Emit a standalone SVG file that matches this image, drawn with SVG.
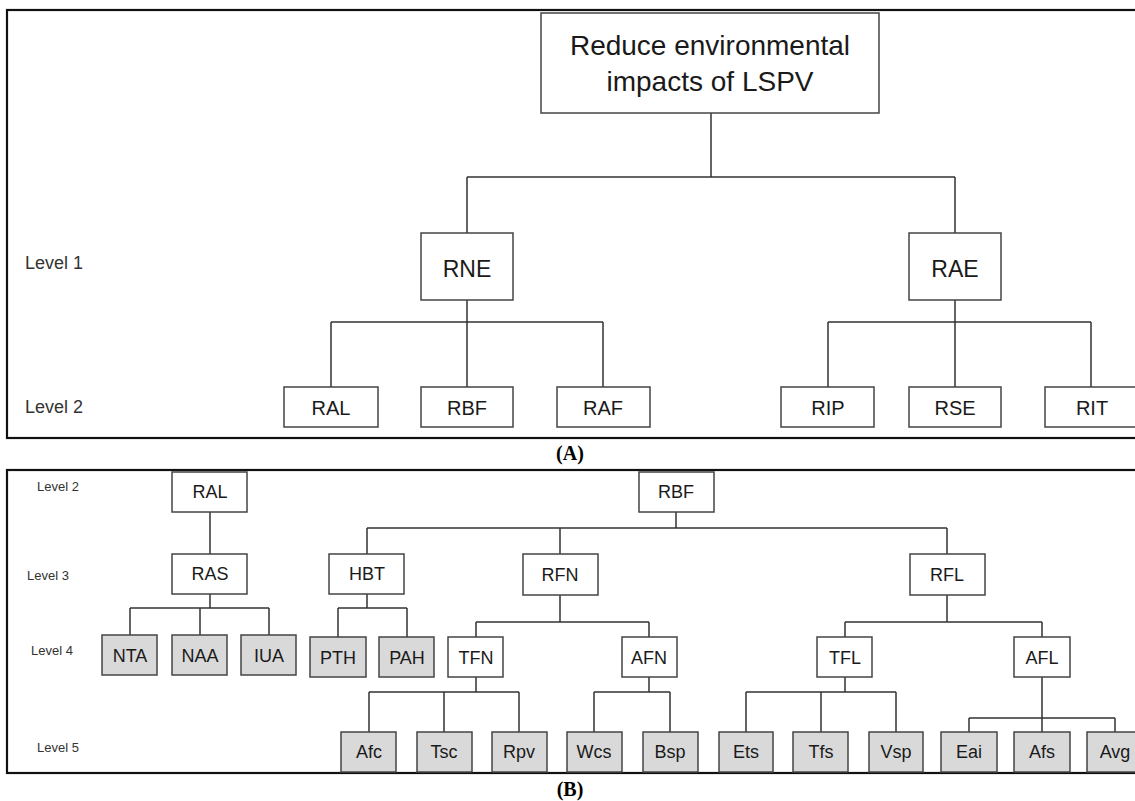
<svg xmlns="http://www.w3.org/2000/svg" width="1135" height="801" viewBox="0 0 1135 801">
<style>
.frame{fill:none;stroke:#111;stroke-width:2.2}
.box{fill:#fff;stroke:#444;stroke-width:1.5}
.g{fill:#d9d9d9;stroke:#444;stroke-width:1.5}
.c{fill:none;stroke:#333;stroke-width:1.5}
text{font-family:"Liberation Sans",Arial,sans-serif;fill:#1a1a1a;text-anchor:middle}
.lv{font-size:18px;text-anchor:start;fill:#333}
.lvs{font-size:13px;text-anchor:start;fill:#333}
.t1{font-size:28px}
.t2{font-size:23px}
.t3{font-size:20px}
.t4{font-size:18px}
.cap{font-family:"Liberation Serif","Times New Roman",serif;font-weight:bold;font-size:20px;fill:#000}
</style>
<rect class="frame" x="7" y="10" width="1140" height="428"/>
<rect class="frame" x="7" y="470" width="1140" height="303"/>
<text class="cap" x="570" y="460">(A)</text>
<text class="cap" x="570" y="796">(B)</text>
<g id="labels">
<text class="lv" x="25" y="269">Level 1</text>
<text class="lv" x="25" y="413">Level 2</text>
<text class="lvs" x="37" y="491">Level 2</text>
<text class="lvs" x="27" y="580">Level 3</text>
<text class="lvs" x="31" y="655">Level 4</text>
<text class="lvs" x="37" y="752">Level 5</text>
</g>
<g id="connectors">
<path class="c" d="M711 113V177M467 177H955M467 177V233M955 177V233"/>
<path class="c" d="M467 300V322M331 322H603M331 322V387M467 322V387M603 322V387"/>
<path class="c" d="M955 300V322M828 322H1091M828 322V387M955 322V387M1091 322V387"/>
<path class="c" d="M210 512V554M210 594V608M130 608H269M130 608V635M200 608V635M269 608V635"/>
<path class="c" d="M676 512V528M367 528H947M367 528V554M560 528V554M947 528V554"/>
<path class="c" d="M367 594V608M338 608H407M338 608V637M407 608V637"/>
<path class="c" d="M560 595V622M476 622H649M476 622V637M649 622V637"/>
<path class="c" d="M947 595V622M845 622H1042M845 622V637M1042 622V637"/>
<path class="c" d="M476 677V692M369 692H519M369 692V732M444 692V732M519 692V732"/>
<path class="c" d="M649 677V692M594 692H670M594 692V732M670 692V732"/>
<path class="c" d="M845 677V692M746 692H896M746 692V732M821 692V732M896 692V732"/>
<path class="c" d="M1042 677V718M969 718H1115M969 718V732M1042 718V732M1115 718V732"/>
</g>
<g id="goal"><rect class="box" x="541" y="13" width="338" height="100"/><text class="t1" x="710" y="55">Reduce environmental</text><text class="t1" x="710" y="91">impacts of LSPV</text></g>
<g id="RNE"><rect class="box" x="421" y="233" width="92" height="67"/><text class="t2" x="467" y="277">RNE</text></g>
<g id="RAE"><rect class="box" x="909" y="233" width="92" height="67"/><text class="t2" x="955" y="277">RAE</text></g>
<g id="RAL-a"><rect class="box" x="284" y="387" width="94" height="40"/><text class="t3" x="331" y="415">RAL</text></g>
<g id="RBF-a"><rect class="box" x="421" y="387" width="92" height="40"/><text class="t3" x="467" y="415">RBF</text></g>
<g id="RAF-a"><rect class="box" x="557" y="387" width="93" height="40"/><text class="t3" x="603" y="415">RAF</text></g>
<g id="RIP"><rect class="box" x="781" y="387" width="93" height="40"/><text class="t3" x="828" y="415">RIP</text></g>
<g id="RSE"><rect class="box" x="909" y="387" width="92" height="40"/><text class="t3" x="955" y="415">RSE</text></g>
<g id="RIT"><rect class="box" x="1045" y="387" width="100" height="40"/><text class="t3" x="1092" y="415">RIT</text></g>
<g id="RAL-b"><rect class="box" x="172" y="472" width="75" height="40"/><text class="t4" x="210" y="498">RAL</text></g>
<g id="RBF-b"><rect class="box" x="639" y="472" width="75" height="40"/><text class="t4" x="676" y="498">RBF</text></g>
<g id="RAS"><rect class="box" x="172" y="554" width="75" height="40"/><text class="t4" x="210" y="580">RAS</text></g>
<g id="HBT"><rect class="box" x="329" y="554" width="75" height="40"/><text class="t4" x="367" y="580">HBT</text></g>
<g id="RFN"><rect class="box" x="523" y="554" width="75" height="41"/><text class="t4" x="560" y="581">RFN</text></g>
<g id="RFL"><rect class="box" x="910" y="554" width="75" height="41"/><text class="t4" x="947" y="581">RFL</text></g>
<g id="NTA"><rect class="g" x="102" y="635" width="55" height="40"/><text class="t4" x="130" y="662">NTA</text></g>
<g id="NAA"><rect class="g" x="172" y="635" width="55" height="40"/><text class="t4" x="200" y="662">NAA</text></g>
<g id="IUA"><rect class="g" x="241" y="635" width="55" height="40"/><text class="t4" x="269" y="662">IUA</text></g>
<g id="PTH"><rect class="g" x="310" y="637" width="56" height="40"/><text class="t4" x="338" y="664">PTH</text></g>
<g id="PAH"><rect class="g" x="379" y="637" width="55" height="40"/><text class="t4" x="407" y="664">PAH</text></g>
<g id="TFN"><rect class="box" x="448" y="637" width="55" height="40"/><text class="t4" x="476" y="664">TFN</text></g>
<g id="AFN"><rect class="box" x="622" y="637" width="55" height="40"/><text class="t4" x="649" y="664">AFN</text></g>
<g id="TFL"><rect class="box" x="817" y="637" width="55" height="40"/><text class="t4" x="845" y="664">TFL</text></g>
<g id="AFL"><rect class="box" x="1014" y="637" width="56" height="40"/><text class="t4" x="1042" y="664">AFL</text></g>
<g id="Afc"><rect class="g" x="341" y="732" width="55" height="40"/><text class="t4" x="369" y="758">Afc</text></g>
<g id="Tsc"><rect class="g" x="417" y="732" width="55" height="40"/><text class="t4" x="444" y="758">Tsc</text></g>
<g id="Rpv"><rect class="g" x="492" y="732" width="55" height="40"/><text class="t4" x="519" y="758">Rpv</text></g>
<g id="Wcs"><rect class="g" x="567" y="732" width="55" height="40"/><text class="t4" x="594" y="758">Wcs</text></g>
<g id="Bsp"><rect class="g" x="643" y="732" width="55" height="40"/><text class="t4" x="670" y="758">Bsp</text></g>
<g id="Ets"><rect class="g" x="719" y="732" width="54" height="40"/><text class="t4" x="746" y="758">Ets</text></g>
<g id="Tfs"><rect class="g" x="793" y="732" width="55" height="40"/><text class="t4" x="821" y="758">Tfs</text></g>
<g id="Vsp"><rect class="g" x="869" y="732" width="54" height="40"/><text class="t4" x="896" y="758">Vsp</text></g>
<g id="Eai"><rect class="g" x="941" y="732" width="56" height="40"/><text class="t4" x="969" y="758">Eai</text></g>
<g id="Afs"><rect class="g" x="1014" y="732" width="56" height="40"/><text class="t4" x="1042" y="758">Afs</text></g>
<g id="Avg"><rect class="g" x="1087" y="732" width="56" height="40"/><text class="t4" x="1115" y="758">Avg</text></g>
</svg>
